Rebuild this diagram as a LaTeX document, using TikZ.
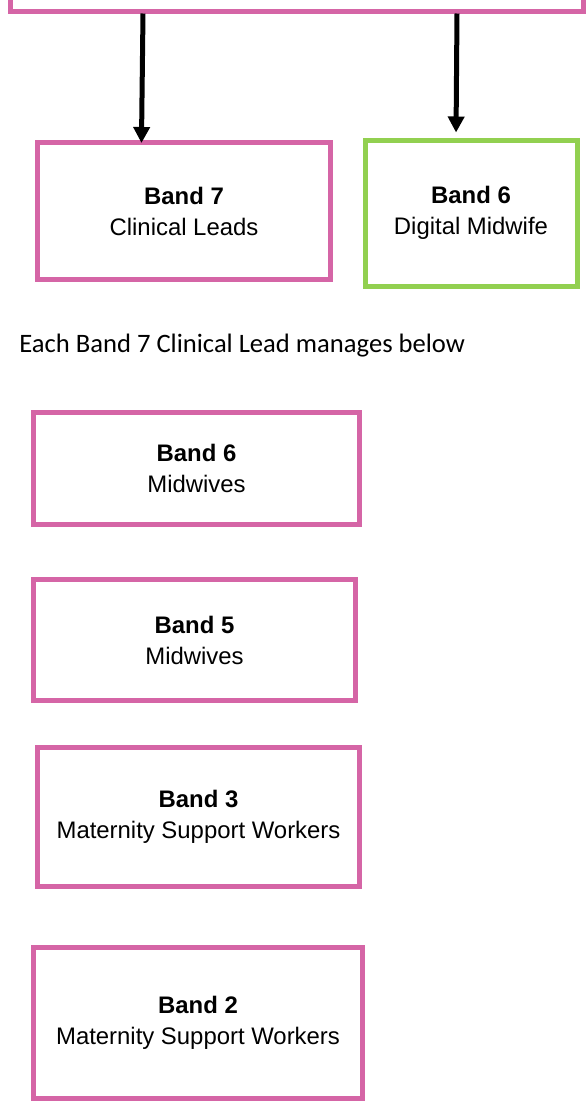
\documentclass[tikz,border=0pt]{standalone}
\usepackage{fontspec}
\setmainfont{Liberation Sans}
\newfontfamily\calibri{Carlito}
\usetikzlibrary{arrows.meta}

\definecolor{bandpink}{HTML}{D565A6}
\definecolor{bandgreen}{HTML}{92D050}

\tikzset{every picture/.style={line width=0.75pt}}
\tikzset{
  bandbox/.style={draw=bandpink, line width=5pt, fill=white, align=center,
    font=\fontsize{23.9}{31}\selectfont},
  greenbox/.style={bandbox, draw=bandgreen},
  link/.style={line width=5pt, -{Triangle[width=16pt,length=16pt]}},
}

\begin{document}
\begin{tikzpicture}[x=1pt,y=-1pt]
        \useasboundingbox (0,0) rectangle (586,1101);
        % top level (cut off at the page edge)
        \node[bandbox, minimum width=573pt, minimum height=80pt] (top) at (296.5,-29) {};
        \node[bandbox, minimum width=293pt, minimum height=137pt] (b7) at (184,211) {\bfseries Band 7\\Clinical Leads};
        \node[greenbox, minimum width=212pt, minimum height=146pt] (dm) at (471,213) {\bfseries Band 6\\Digital Midwife};
        \draw[link, shorten >=-3pt] ([xshift=135.5pt]top.south west) -- ([xshift=106.5pt]b7.north west);
        \draw[link, shorten >=5pt] ([xshift=449.5pt]top.south west) -- ([xshift=93.5pt]dm.north west);
        \node[anchor=base west, inner sep=0pt, font=\calibri\fontsize{26.6}{32}\selectfont] (note) at (19,352) {Each Band 7 Clinical Lead manages below};
        % staff under each clinical lead
        \node[bandbox, minimum width=326pt, minimum height=112pt] (b6) at (196.5,468.5) {\bfseries Band 6\\Midwives};
        \node[bandbox, minimum width=322pt, minimum height=121pt] (b5) at (194.5,640) {\bfseries Band 5\\Midwives};
        \node[bandbox, minimum width=322pt, minimum height=139pt] (b3) at (198.5,817) {\bfseries Band 3\\Maternity Support Workers};
        \node[bandbox, minimum width=329pt, minimum height=151pt] (b2) at (198,1023) {\bfseries Band 2\\Maternity Support Workers};
    \end{tikzpicture}
\end{document}
